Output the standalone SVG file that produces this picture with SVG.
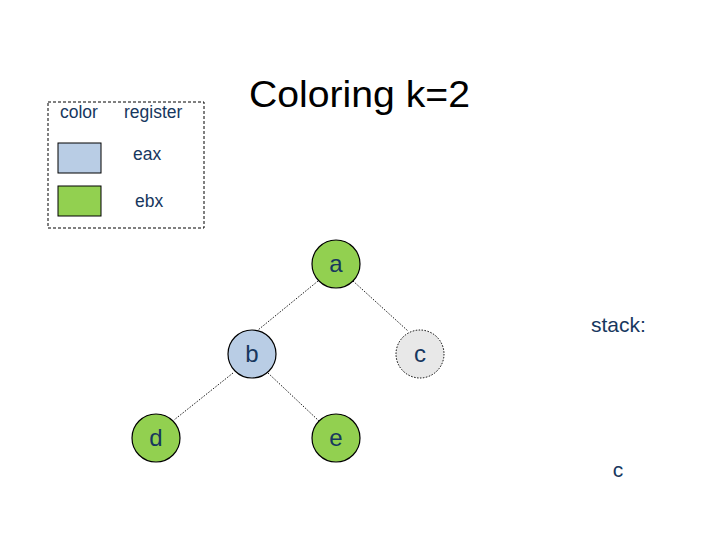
<svg xmlns="http://www.w3.org/2000/svg" width="720" height="540" viewBox="0 0 720 540">
<style>
.t{font-family:"Liberation Sans",Arial,sans-serif;fill:#17375e}
.lg{font-size:17.5px}
.nd{font-size:24px;text-anchor:middle}
.node{stroke:#000;stroke-width:1.2}
.edge{stroke:#000;stroke-width:0.9;stroke-dasharray:1.5 1.5;fill:none}
</style>
<rect width="720" height="540" fill="#fff"/>
<g id="legend">
<rect x="48" y="102" width="156" height="126" fill="none" stroke="#000" stroke-width="1" stroke-dasharray="3 2"/>
<text class="t lg" x="60" y="118">color</text>
<text class="t lg" x="124" y="118">register</text>
<rect x="58" y="143" width="43" height="30" fill="#b9cde5" stroke="#000" stroke-width="1"/>
<text class="t lg" x="133" y="160">eax</text>
<rect x="58" y="186" width="43" height="30" fill="#92d050" stroke="#000" stroke-width="1"/>
<text class="t lg" x="135" y="207">ebx</text>
</g>
<text id="title" x="249" y="107" font-family="Liberation Sans,Arial,sans-serif" font-size="37" fill="#000" textLength="221" lengthAdjust="spacingAndGlyphs">Coloring k=2</text>
<g id="connectors">
<line class="edge" x1="318" y1="281" x2="258" y2="330"/>
<line class="edge" x1="353" y1="281" x2="408" y2="331"/>
<line class="edge" x1="233" y1="373" x2="174" y2="420"/>
<line class="edge" x1="268" y1="373" x2="319" y2="421"/>
</g>
<g id="node-a"><circle class="node" cx="336" cy="264" r="24" fill="#92d050"/><text class="t nd" x="336" y="272">a</text></g>
<g id="node-b"><circle class="node" cx="252" cy="354" r="24" fill="#b9cde5"/><text class="t nd" x="252" y="362">b</text></g>
<g id="node-c"><circle cx="420" cy="354" r="24" fill="#e8e8e8" stroke="#000" stroke-width="1" stroke-dasharray="1.5 1.5"/><text class="t nd" x="420" y="362">c</text></g>
<g id="node-d"><circle class="node" cx="156" cy="438" r="24" fill="#92d050"/><text class="t nd" x="156" y="446">d</text></g>
<g id="node-e"><circle class="node" cx="336" cy="438" r="24" fill="#92d050"/><text class="t nd" x="336" y="446">e</text></g>
<g id="stack">
<text class="t" x="591" y="332" font-size="21">stack:</text>
<text class="t" x="618" y="477" font-size="21" text-anchor="middle">c</text>
</g>
</svg>
